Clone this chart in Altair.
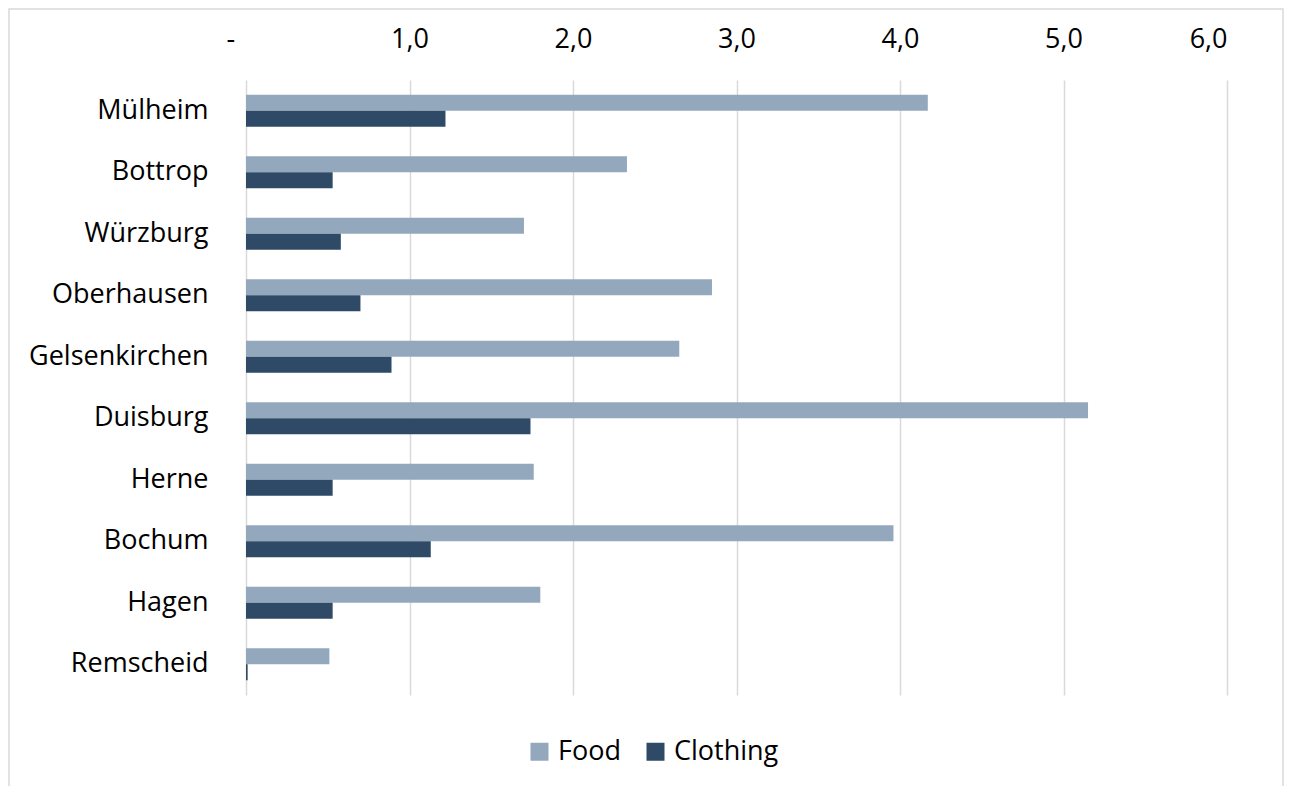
import altair as alt
import pandas as pd

cities = ["Mülheim", "Bottrop", "Würzburg", "Oberhausen", "Gelsenkirchen",
          "Duisburg", "Herne", "Bochum", "Hagen", "Remscheid"]
food = [4.17, 2.33, 1.70, 2.85, 2.65, 5.15, 1.76, 3.96, 1.80, 0.51]
clothing = [1.22, 0.53, 0.58, 0.70, 0.89, 1.74, 0.53, 1.13, 0.53, 0.01]
series = ["Food", "Clothing"]
colors = ["#93A8BC", "#2F4A66"]
x_ticks = [0, 1, 2, 3, 4, 5, 6]

rows = []
for c, f, cl in zip(cities, food, clothing):
    rows.append({"city": c, "series": "Food", "value": f})
    rows.append({"city": c, "series": "Clothing", "value": cl})
df = pd.DataFrame(rows)

FONT = "Open Sans"
FS = 27
W, H = 981, 615
PL, PT, PR, PB = 238, 72, 57, 91

bars = alt.Chart(df).mark_bar().encode(
    x=alt.X("value:Q",
            scale=alt.Scale(domain=[0, 6], nice=False),
            axis=alt.Axis(orient="top", values=x_ticks, title=None,
                          labelExpr="datum.value == 0 ? '-' : replace(format(datum.value, '.1f'), '.', ',')",
                          labelOffset={"condition": {"test": "datum.value == 0", "value": -20}, "value": 0},
                          grid=True, gridColor="#D9D9D9", gridWidth=1.5,
                          domain=False, ticks=False, labelPadding=27,
                          labelFontSize=FS, labelFont=FONT, labelColor="#000000")),
    y=alt.Y("city:N", sort=cities,
            scale=alt.Scale(paddingInner=0.48, paddingOuter=0.24),
            axis=alt.Axis(title=None, domain=False, ticks=False, grid=False,
                          labelPadding=38, labelFontSize=FS, labelFont=FONT,
                          labelColor="#000000")),
    yOffset=alt.YOffset("series:N", sort=series),
    color=alt.Color("series:N", sort=series,
                    scale=alt.Scale(domain=series, range=colors),
                    legend=alt.Legend(title=None, orient="none", legendX=280, legendY=658,
                                      direction="horizontal", symbolType="square",
                                      symbolSize=324, symbolStrokeWidth=0,
                                      labelFontSize=FS, labelFont=FONT, labelColor="#000000",
                                      columnPadding=21, labelOffset=5)),
)

border = alt.Chart(pd.DataFrame({"a": [0]})).mark_rect(
    fill="transparent", stroke="#D9D9D9", strokeWidth=1.5
).encode(x=alt.value(-237), x2=alt.value(W + PR - 1),
         y=alt.value(-71), y2=alt.value(H + PB + 20))

chart = alt.layer(border, bars).properties(
    width=W, height=H,
    autosize=alt.AutoSizeParams(type="none"),
    padding={"left": PL, "top": PT, "right": PR, "bottom": PB},
).configure(
    background="white",
    view=alt.ViewConfig(stroke="transparent", strokeWidth=0),
)

chart.save("out.html", embed_options={"renderer": "svg", "actions": False})
